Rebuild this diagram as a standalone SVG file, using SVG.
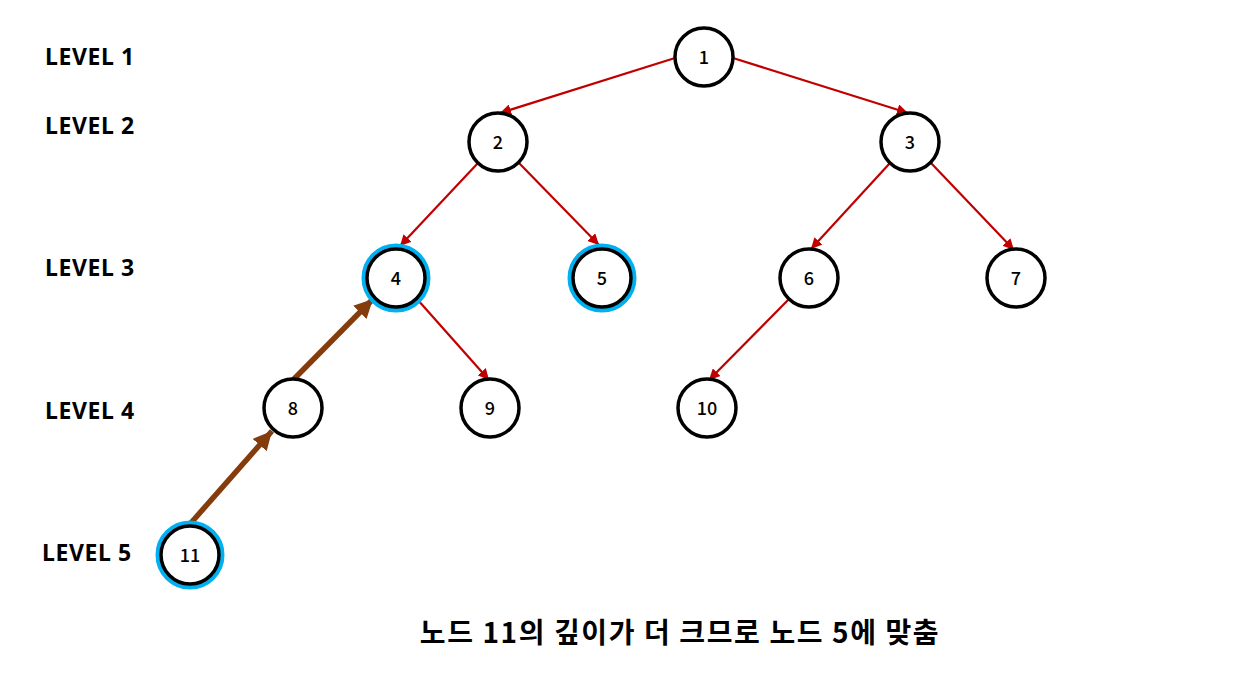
<svg xmlns="http://www.w3.org/2000/svg" width="1260" height="676" viewBox="0 0 1260 676">
<style>
.lvl{font-family:"Noto Sans","Liberation Sans",sans-serif;font-weight:bold;font-size:23px;letter-spacing:0.6px;fill:#000}
.n circle.c{fill:#fff;stroke:#000;stroke-width:3.5}
.n circle.h{fill:none;stroke:#00b0f0;stroke-width:5}
.n text{font-family:"Noto Sans CJK KR","Noto Sans",sans-serif;font-weight:500;font-size:18px;fill:#000;text-anchor:middle}
.e{stroke:#c00000;stroke-width:2.2;fill:none;marker-end:url(#ar)}
.b{stroke:#843c0c;stroke-width:5.5;fill:none;marker-end:url(#ab)}
.cap{font-family:"Noto Sans CJK KR","Noto Sans",sans-serif;font-weight:bold;font-size:28px;letter-spacing:1.6px;text-anchor:middle}
</style>
<defs>
<marker id="ar" viewBox="0 0 10 10" refX="10" refY="5" markerWidth="5" markerHeight="5" orient="auto" markerUnits="strokeWidth"><path d="M0,0 L10,5 L0,10 z" fill="#c00000"/></marker>
<marker id="ab" viewBox="0 0 10 10" refX="10" refY="5" markerWidth="3.4" markerHeight="3.4" orient="auto" markerUnits="strokeWidth"><path d="M0,0 L10,5 L0,10 z" fill="#843c0c"/></marker>
</defs>
<rect width="1260" height="676" fill="#fff"/>
<g id="levels">
<text class="lvl" x="45" y="65">LEVEL 1</text>
<text class="lvl" x="45" y="134">LEVEL 2</text>
<text class="lvl" x="45" y="276">LEVEL 3</text>
<text class="lvl" x="45" y="419">LEVEL 4</text>
<text class="lvl" x="42" y="561">LEVEL 5</text>
</g>
<g id="connectors">
<line class="e" x1="675" y1="58" x2="500" y2="113"/>
<line class="e" x1="733" y1="58" x2="908" y2="113"/>
<line class="e" x1="478" y1="163" x2="400" y2="246"/>
<line class="e" x1="519" y1="163" x2="599" y2="245"/>
<line class="e" x1="890" y1="163" x2="811" y2="249"/>
<line class="e" x1="931" y1="163" x2="1014" y2="250"/>
<line class="e" x1="417" y1="299" x2="489" y2="380"/>
<line class="e" x1="790" y1="298" x2="709" y2="380"/>
<line stroke="#c00000" stroke-width="2" x1="293" y1="380" x2="375" y2="298"/>
<line stroke="#c00000" stroke-width="2" x1="190" y1="524" x2="272" y2="432"/>
<line class="b" x1="293" y1="380" x2="373" y2="299"/>
<line class="b" x1="190" y1="524" x2="272" y2="431"/>
</g>
<g id="n1" class="n"><circle class="c" cx="704" cy="57" r="29"/><text x="704" y="63.5">1</text></g>
<g id="n2" class="n"><circle class="c" cx="498" cy="142" r="29"/><text x="498" y="148.5">2</text></g>
<g id="n3" class="n"><circle class="c" cx="910" cy="142" r="29"/><text x="910" y="148.5">3</text></g>
<g id="n4" class="n"><circle class="h" cx="396" cy="278" r="32"/><circle class="c" cx="396" cy="278" r="29"/><text x="396" y="284.5">4</text></g>
<g id="n5" class="n"><circle class="h" cx="602" cy="278" r="32"/><circle class="c" cx="602" cy="278" r="29"/><text x="602" y="284.5">5</text></g>
<g id="n6" class="n"><circle class="c" cx="809" cy="278" r="29"/><text x="809" y="284.5">6</text></g>
<g id="n7" class="n"><circle class="c" cx="1016" cy="278" r="29"/><text x="1016" y="284.5">7</text></g>
<g id="n8" class="n"><circle class="c" cx="293" cy="408" r="29"/><text x="293" y="414.5">8</text></g>
<g id="n9" class="n"><circle class="c" cx="490" cy="408" r="29"/><text x="490" y="414.5">9</text></g>
<g id="n10" class="n"><circle class="c" cx="707" cy="408" r="29"/><text x="707" y="414.5">10</text></g>
<g id="n11" class="n"><circle class="h" cx="190" cy="555" r="32"/><circle class="c" cx="190" cy="555" r="29"/><text x="190" y="561.5">11</text></g>
<text class="cap" x="680" y="643">노드 11의 깊이가 더 크므로 노드 5에 맞춤</text>
</svg>
